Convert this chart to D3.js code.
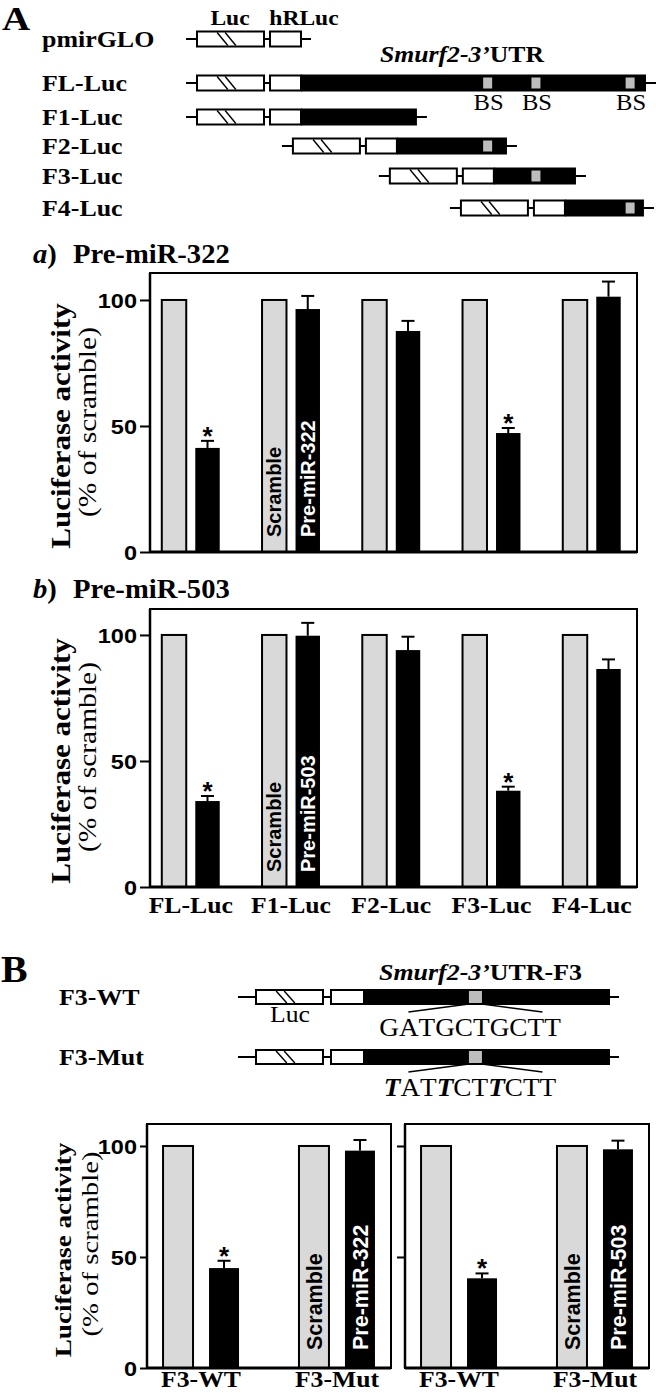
<!DOCTYPE html>
<html><head><meta charset="utf-8">
<script src="https://cdn.jsdelivr.net/npm/d3@7"></script>
<style>html,body{margin:0;padding:0;background:#fff}svg{display:block}</style>
</head><body>
<script>
// ---------------- DATA ----------------
const constructNames = ["pmirGLO","FL-Luc","F1-Luc","F2-Luc","F3-Luc","F4-Luc"];
const fragStart = [0, 0, 0, 27.8, 55.9, 76.5];      // position on Smurf2 3'UTR (relative units)
const fragEnd   = [0, 100, 33.6, 59.7, 79.7, 99.4];
const bindingSites = [54.1, 68.1, 95.4];
const siteInF3 = [0.453];                            // BS location inside F3 fragment (panel B schematic)

const fragmentsA = ["FL-Luc","F1-Luc","F2-Luc","F3-Luc","F4-Luc"];
const treatments = ["Scramble","Pre-miR"];
const scrambleA  = [100,100,100,100,100];
const mir322A    = [41.3,96.4,87.7,47.2,101.3];
const mir322AErr = [2.8,5.2,4.0,2.0,6.0];
const mir503A    = [34.1,99.7,94.0,38.2,86.5];
const mir503AErr = [2.0,5.1,5.3,1.6,3.8];
const signifA    = [1,0,0,1,0];

const constructsB = ["F3-WT","F3-Mut"];
const scrambleB  = [100,100];
const mir322B    = [45.0,97.9];
const mir322BErr = [3.3,4.8];
const mir503B    = [40.4,98.5];
const mir503BErr = [2.2,3.9];
const signifB    = [1,0];

const yTicks = [0,50,100];
const wtSeq  = "GATGCTGCTT";
const mutSeq = "TATTCTTCTT";
const mutPositions = [0,3,6];

// ---------------- HELPERS ----------------
const SERIF = "'Liberation Serif','Times New Roman',serif";
const SANS  = "'Liberation Sans',Arial,sans-serif";
const W = 656, H = 1393;
const svg = d3.select("body").append("svg").attr("width",W).attr("height",H);
svg.append("rect").attr("width",W).attr("height",H).attr("fill","#fff");

function T(parent, x, y, str, o = {}) {
  const t = parent.append("text")
    .attr("transform", `translate(${x},${y})` + (o.rot ? ` rotate(${o.rot})` : "") + ` scale(${o.sx || 1},1)`)
    .attr("font-family", o.ff || SERIF)
    .attr("font-size", o.fs || 24)
    .attr("font-weight", o.fw || "bold")
    .attr("font-style", o.fst || "normal")
    .attr("text-anchor", o.anchor || "start")
    .attr("fill", o.fill || "#000");
  if (o.dy) t.attr("dy", o.dy);
  if (Array.isArray(str)) {
    str.forEach(s => {
      const sp = t.append("tspan").text(s.t);
      if (s.i) sp.attr("font-style", "italic");
      if (s.w) sp.attr("font-weight", s.w);
    });
  } else t.text(str);
  return t;
}

function construct(g, y, fs, fe, p, sites) {
  const b2x0 = fs - p.b2w, b1x1 = b2x0 - p.gap, b1x0 = b1x1 - p.b1w;
  g.append("line").attr("x1", b1x0 - p.lead).attr("x2", fe + p.tail).attr("y1", y).attr("y2", y)
    .attr("stroke", "#000").attr("stroke-width", 2);
  g.append("rect").attr("x", b1x0).attr("y", y - p.h/2).attr("width", p.b1w).attr("height", p.h)
    .attr("fill", "#fff").attr("stroke", "#000").attr("stroke-width", 2);
  [0, 0.12].forEach(d => {
    g.append("line")
      .attr("x1", b1x0 + p.b1w*(0.3+d)).attr("y1", y - p.h/2 + 1)
      .attr("x2", b1x0 + p.b1w*(0.46+d)).attr("y2", y + p.h/2 - 1)
      .attr("stroke", "#000").attr("stroke-width", 1.4);
  });
  g.append("rect").attr("x", b2x0).attr("y", y - p.h/2).attr("width", p.b2w).attr("height", p.h)
    .attr("fill", "#fff").attr("stroke", "#000").attr("stroke-width", 2);
  if (fe > fs) {
    g.append("rect").attr("x", fs).attr("y", y - p.h/2 - 1).attr("width", fe - fs).attr("height", p.h + 2)
      .attr("fill", "#000");
  }
  sites.forEach(sx => {
    g.append("rect").attr("x", sx - p.bsw/2).attr("y", y - p.bsh/2).attr("width", p.bsw).attr("height", p.bsh)
      .attr("fill", "#bdbdbd");
  });
}

// ---------------- PANEL A : constructs ----------------
const gA = svg.append("g");
T(gA, 2, 30, "A", {fs: 33, sx: 1.18});
const utr = d3.scaleLinear().domain([0, 100]).range([301, 646]);
const rowY = [39, 83, 117, 146, 176, 208];
const pA = {h: 15, b1w: 67, gap: 6, b2w: 31, lead: 11, tail: 10, bsw: 9, bsh: 11};
constructNames.forEach((name, i) => {
  T(gA, 42, rowY[i] + 8, name, {fs: 24, sx: 1.08});
  const sites = i === 0 ? [] : bindingSites.filter(s => s > fragStart[i] && s < fragEnd[i]).map(utr);
  construct(gA, rowY[i], utr(fragStart[i]), utr(fragEnd[i]), pA, sites);
});
T(gA, 230, 25, "Luc", {fs: 22, sx: 1.07, anchor: "middle"});
T(gA, 304, 25, "hRLuc", {fs: 22, sx: 1.07, anchor: "middle"});
T(gA, 380, 62, [{t: "Smurf2-3’", i: true}, {t: "UTR"}], {fs: 24, sx: 1.07});
bindingSites.forEach(s => T(gA, utr(s) + 1, 110, "BS", {fs: 23, sx: 1.07, fw: "normal", anchor: "middle"}));

// ---------------- BAR PANELS ----------------
function barPanel(g, o) {
  const x = d3.scaleBand().domain(o.groups).range([o.x0, o.x1])
    .paddingInner(o.pIn).paddingOuter(o.pOut).align(o.align);
  const xi = d3.scaleBand().domain(treatments).range([0, x.bandwidth()]).paddingInner(o.pIn2);
  const y = d3.scaleLinear().domain([0, o.ymax]).range([o.yBase, o.yTop]);

  o.groups.forEach((gn, i) => {
    const bx = x(gn);
    g.append("rect").attr("x", bx + xi("Scramble")).attr("y", y(o.scr[i]))
      .attr("width", xi.bandwidth()).attr("height", o.yBase - y(o.scr[i]))
      .attr("fill", "#d9d9d9").attr("stroke", "#000").attr("stroke-width", 2);
    const mx = bx + xi("Pre-miR");
    g.append("rect").attr("x", mx).attr("y", y(o.mir[i]))
      .attr("width", xi.bandwidth()).attr("height", o.yBase - y(o.mir[i]))
      .attr("fill", "#000");
    const cx = mx + xi.bandwidth()/2, et = y(o.mir[i] + o.err[i]);
    g.append("line").attr("x1", cx).attr("x2", cx).attr("y1", y(o.mir[i])).attr("y2", et)
      .attr("stroke", "#000").attr("stroke-width", 2);
    g.append("line").attr("x1", cx - 6.5).attr("x2", cx + 6.5).attr("y1", et).attr("y2", et)
      .attr("stroke", "#000").attr("stroke-width", 2);
    if (o.sig[i]) T(g, cx, et + 4, "*", {ff: SANS, fs: 26, anchor: "middle"});
    if (i === o.labelIdx) {
      const sx0 = bx + xi("Scramble") + xi.bandwidth()/2;
      T(g, sx0, o.yBase - o.lblOff, "Scramble", {ff: SANS, fs: o.lblFs, rot: -90, sx: 1.0, dy: "0.36em"});
      T(g, cx, o.yBase - o.lblOff, o.mirName, {ff: SANS, fs: o.lblFs, rot: -90, sx: 1.0, dy: "0.36em", fill: "#fff"});
    }
    if (o.xlabels) T(g, bx + x.bandwidth()/2, o.xlabBase, gn, {fs: 24, sx: 1.07, anchor: "middle"});
  });

  // frame
  g.append("rect").attr("x", o.x0).attr("y", o.yTop).attr("width", o.x1 - o.x0).attr("height", o.yBase - o.yTop)
    .attr("fill", "none").attr("stroke", "#000").attr("stroke-width", 2);
  g.append("line").attr("x1", o.x0).attr("x2", o.x1).attr("y1", o.yBase).attr("y2", o.yBase)
    .attr("stroke", "#000").attr("stroke-width", 3);
  g.append("line").attr("x1", o.x0).attr("x2", o.x0).attr("y1", o.yTop).attr("y2", o.yBase)
    .attr("stroke", "#000").attr("stroke-width", 2.5);
  // ticks
  const ax = g.append("g").attr("transform", `translate(${o.x0},0)`)
    .call(d3.axisLeft(y).tickValues(o.tickVals).tickSize(o.tickLen).tickFormat(""));
  ax.select(".domain").remove();
  ax.selectAll(".tick line").attr("stroke", "#000").attr("stroke-width", 2);
  if (o.tickLabels) {
    o.tickVals.forEach(v => T(g, o.x0 - o.tickLen - 3, y(v), String(v),
      {ff: SANS, fs: 21, sx: 1.12, anchor: "end", dy: "0.36em"}));
  }
  if (o.ylab) {
    T(g, o.ylab.x1, o.ylab.yc, "Luciferase activity", {fs: o.ylab.fs1, sx: o.ylab.sx1, rot: -90, anchor: "middle", dy: "0.25em"});
    T(g, o.ylab.x2, o.ylab.yc2, "(% of scramble)", {fs: o.ylab.fs2, sx: o.ylab.sx2, fw: "normal", rot: -90, anchor: "middle", dy: "0.25em"});
  }
  return {x, y};
}

// panel a
const ga = svg.append("g");
T(ga, 33, 263, [{t: "a", i: true}, {t: ")"}], {fs: 27, sx: 1.06});
T(ga, 73, 263, "Pre-miR-322", {fs: 27, sx: 1.06});
barPanel(ga, {
  x0: 150, x1: 637, yBase: 552, yTop: 273, ymax: 110.7,
  groups: fragmentsA, scr: scrambleA, mir: mir322A, err: mir322AErr, sig: signifA,
  pIn: 0.422, pOut: 0.14, align: 0.42, pIn2: 0.27,
  tickVals: yTicks, tickLen: 10, tickLabels: true,
  labelIdx: 1, mirName: "Pre-miR-322", lblFs: 20, lblOff: 15,
  ylab: {x1: 63.5, yc: 426, fs1: 27, sx1: 1.15, x2: 90, yc2: 422, fs2: 25, sx2: 1.18}
});

// panel b
const gb = svg.append("g");
T(gb, 33, 598, [{t: "b", i: true}, {t: ")"}], {fs: 27, sx: 1.06});
T(gb, 73, 598, "Pre-miR-503", {fs: 27, sx: 1.06});
barPanel(gb, {
  x0: 150, x1: 637, yBase: 887, yTop: 609, ymax: 110.3,
  groups: fragmentsA, scr: scrambleA, mir: mir503A, err: mir503AErr, sig: signifA,
  pIn: 0.422, pOut: 0.14, align: 0.42, pIn2: 0.27,
  tickVals: yTicks, tickLen: 10, tickLabels: true,
  labelIdx: 1, mirName: "Pre-miR-503", lblFs: 20, lblOff: 15,
  xlabels: true, xlabBase: 913,
  ylab: {x1: 63.5, yc: 761, fs1: 27, sx1: 1.15, x2: 90, yc2: 757, fs2: 25, sx2: 1.18}
});

// ---------------- PANEL B : constructs ----------------
const gB = svg.append("g");
T(gB, 1, 982, "B", {fs: 38, sx: 1.05});
const f3 = d3.scaleLinear().domain([0, 1]).range([364, 610]);
const pB = {h: 14, b1w: 67, gap: 8, b2w: 33, lead: 18, tail: 9, bsw: 13, bsh: 12};
const rowB = [997, 1057];
const seqs = [wtSeq, mutSeq];
constructsB.forEach((name, i) => {
  T(gB, 59, rowB[i] + 8, name, {fs: 24, sx: 1.08});
  construct(gB, rowB[i], f3(0), f3(1), pB, siteInF3.map(f3));
  const sc = f3(siteInF3[0]);
  const yb = rowB[i] + pB.h/2;
  gB.append("line").attr("x1", sc - pB.bsw/2).attr("y1", yb).attr("x2", sc - 67).attr("y2", yb + 8)
    .attr("stroke", "#000").attr("stroke-width", 1.5);
  gB.append("line").attr("x1", sc + pB.bsw/2).attr("y1", yb).attr("x2", sc + 67).attr("y2", yb + 8)
    .attr("stroke", "#000").attr("stroke-width", 1.5);
  const parts = seqs[i].split("").map((c, k) =>
    (i === 1 && mutPositions.includes(k)) ? {t: c, i: true, w: "bold"} : {t: c});
  T(gB, 470, rowB[i] + 39, parts, {fs: 25, sx: 1.09, fw: "normal", anchor: "middle"});
});
T(gB, 290, 1022, "Luc", {fs: 24, sx: 1.07, fw: "normal", anchor: "middle"});
T(gB, 379, 980, [{t: "Smurf2-3’", i: true}, {t: "UTR-F3"}], {fs: 24, sx: 1.08});

// ---------------- PANEL B : bars ----------------
const gBL = svg.append("g");
barPanel(gBL, {
  x0: 147, x1: 391, yBase: 1368, yTop: 1124, ymax: 109.9,
  groups: constructsB, scr: scrambleB, mir: mir322B, err: mir322BErr, sig: signifB,
  pIn: 0.441, pOut: 0.118, align: 0.5, pIn2: 0.348,
  tickVals: yTicks, tickLen: 7, tickLabels: true,
  labelIdx: 1, mirName: "Pre-miR-322", lblFs: 21.5, lblOff: 18,
  xlabels: true, xlabBase: 1387,
  ylab: {x1: 64.5, yc: 1250, fs1: 24, sx1: 1.13, x2: 92, yc2: 1244, fs2: 23, sx2: 1.25}
});
const gBR = svg.append("g");
barPanel(gBR, {
  x0: 405, x1: 649, yBase: 1368, yTop: 1124, ymax: 109.9,
  groups: constructsB, scr: scrambleB, mir: mir503B, err: mir503BErr, sig: signifB,
  pIn: 0.441, pOut: 0.118, align: 0.5, pIn2: 0.348,
  tickVals: yTicks.filter(v => v > 0), tickLen: 8, tickLabels: false,
  labelIdx: 1, mirName: "Pre-miR-503", lblFs: 21.5, lblOff: 18,
  xlabels: true, xlabBase: 1387
});
</script>
</body></html>
